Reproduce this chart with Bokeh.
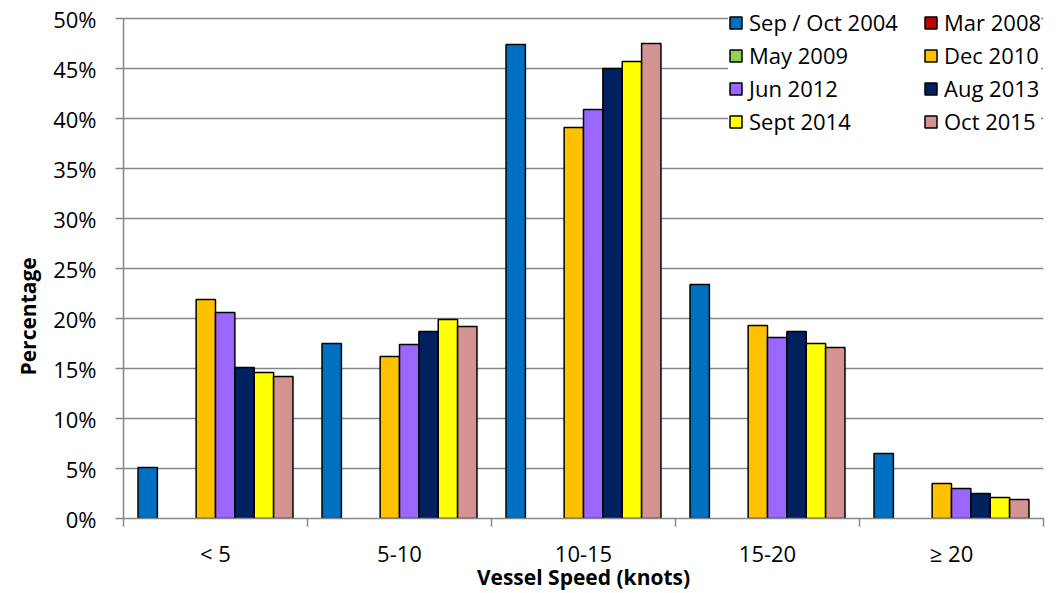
from bokeh.plotting import figure
from bokeh.models import (ColumnDataSource, FixedTicker, PrintfTickFormatter,
                          Legend, LegendItem, Range1d, Title)
from bokeh.embed import file_html
from bokeh.resources import INLINE

# ---------------- data ----------------
categories = ["< 5", "5-10", "10-15", "15-20", "\u2265 20"]
series_names = ["Sep / Oct 2004", "Mar 2008", "May 2009", "Dec 2010",
                "Jun 2012", "Aug 2013", "Sept 2014", "Oct 2015"]
series_colors = ["#0070C0", "#C00000", "#92D050", "#FFC000",
                 "#9966FF", "#002060", "#FFFF00", "#D39393"]

sep_oct_2004 = [5.1, 17.5, 47.4, 23.4, 6.5]
mar_2008 = [None, None, None, None, None]
may_2009 = [None, None, None, None, None]
dec_2010 = [21.9, 16.2, 39.1, 19.3, 3.5]
jun_2012 = [20.6, 17.4, 40.9, 18.1, 3.0]
aug_2013 = [15.1, 18.7, 45.0, 18.7, 2.5]
sept_2014 = [14.6, 19.9, 45.7, 17.5, 2.1]
oct_2015 = [14.2, 19.2, 47.5, 17.1, 1.9]

series_values = [sep_oct_2004, mar_2008, may_2009, dec_2010,
                 jun_2012, aug_2013, sept_2014, oct_2015]

y_ticks = [0, 5, 10, 15, 20, 25, 30, 35, 40, 45, 50]

FONT = "Open Sans"
GREY = "#868686"

# ---------------- figure ----------------
# frame spans the full top so that the legend (which overlaps above 50%) is not clipped;
# the y axis line itself is bounded to 0..50
p = figure(width=1060, height=593, output_backend="svg", toolbar_location=None,
           x_range=Range1d(0, len(categories)), y_range=Range1d(0, 51.8),
           min_border_left=123, min_border_right=17, min_border_top=0,
           min_border_bottom=74)
p.outline_line_color = None
p.background_fill_color = "white"
p.border_fill_color = "white"

n_series = len(series_names)
bar_w = 1.0 / (n_series + 1.5)   # Excel gap width 150%

renderers = []
for j, (name, vals, col) in enumerate(zip(series_names, series_values, series_colors)):
    xs = [i + (j + 1.25) * bar_w for i in range(len(categories))]
    tops = [float("nan") if v is None else v for v in vals]
    src = ColumnDataSource(dict(x=xs, top=tops))
    r = p.vbar(x="x", top="top", bottom=0, width=bar_w, source=src,
               fill_color=col, line_color="black", line_width=1.5)
    renderers.append(r)

# ---------------- axes ----------------
xa = p.xaxis[0]
xa.ticker = FixedTicker(ticks=[i + 0.5 for i in range(len(categories))],
                        minor_ticks=list(range(len(categories) + 1)))
xa.major_label_overrides = {i + 0.5: c for i, c in enumerate(categories)}
xa.major_tick_out = 0
xa.major_tick_in = 0
xa.minor_tick_out = 8
xa.minor_tick_in = 0
xa.minor_tick_line_color = GREY
xa.minor_tick_line_width = 1.5
xa.axis_line_color = GREY
xa.axis_line_width = 1.5
xa.major_label_text_font = FONT
xa.major_label_text_font_size = "22px"
xa.major_label_text_color = "black"
xa.major_label_standoff = 11
xa.axis_label = "Vessel Speed (knots)"
xa.axis_label_text_font = FONT
xa.axis_label_text_font_style = "bold"
xa.axis_label_text_font_size = "21px"
xa.axis_label_text_color = "black"
xa.axis_label_standoff = -8

ya = p.yaxis[0]
ya.ticker = FixedTicker(ticks=y_ticks)
ya.formatter = PrintfTickFormatter(format="%d%%")
ya.bounds = (0, 50)
ya.major_tick_out = 8
ya.major_tick_in = 0
ya.minor_tick_out = 0
ya.minor_tick_in = 0
ya.major_tick_line_color = GREY
ya.major_tick_line_width = 1.5
ya.axis_line_color = GREY
ya.axis_line_width = 1.5
ya.major_label_text_font = FONT
ya.major_label_text_font_size = "22px"
ya.major_label_text_color = "black"
ya.major_label_standoff = 19

# y axis title placed as a left-side title (it sits lower than the frame centre)
ytitle = Title(text="Percentage", align="left", offset=143, standoff=17,
               vertical_align="bottom", text_font=FONT, text_font_style="bold",
               text_font_size="21px", text_color="black")
p.add_layout(ytitle, "left")

p.xgrid.grid_line_color = None
p.ygrid.ticker = FixedTicker(ticks=y_ticks)
p.ygrid.grid_line_color = GREY
p.ygrid.grid_line_width = 1.3

# ---------------- legends (two columns) ----------------
def make_legend(idxs, loc, label_w):
    items = [LegendItem(label=series_names[k], renderers=[renderers[k]]) for k in idxs]
    lg = Legend(items=items, location=loc, padding=7, margin=0, spacing=3,
                label_height=30, label_width=label_w,
                glyph_height=15, glyph_width=15, label_standoff=6,
                label_text_font=FONT, label_text_font_size="22px",
                label_text_color="black", border_line_color=None,
                background_fill_color="white", background_fill_alpha=1.0)
    return lg

leg1 = make_legend([0, 2, 4, 6], (605, 382), 175)
leg2 = make_legend([1, 3, 5, 7], (800, 382), 20)
p.add_layout(leg1, "center")
p.add_layout(leg2, "center")

open("out.html", "w").write(file_html(p, INLINE))
